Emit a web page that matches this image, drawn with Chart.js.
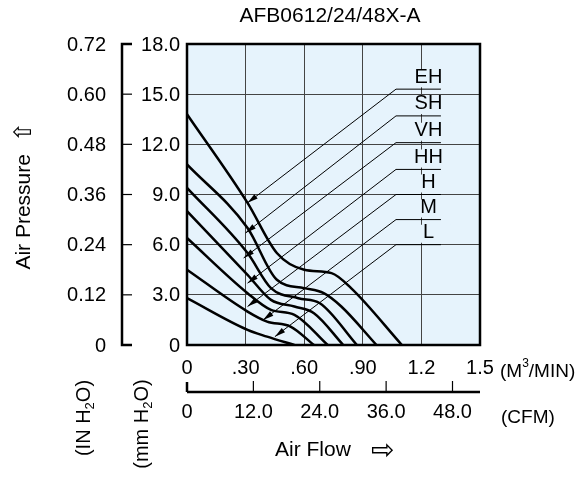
<!DOCTYPE html>
<html>
<head>
<meta charset="utf-8">
<script src="https://cdn.jsdelivr.net/npm/chart.js@4"></script>
<style>
  html, body { margin: 0; padding: 0; background: #fff; }
  #wrap { width: 582px; height: 496px; }
</style>
</head>
<body>
<div id="wrap"><canvas id="myChart" width="582" height="496"></canvas></div>
<script>
// flow in M3/MIN, pressure in mm H2O
var curveNames = ['EH', 'SH', 'VH', 'HH', 'H', 'M', 'L'];
var flowEH = [0, 0.31, 0.46, 0.60, 0.74, 0.84, 1.10];
var presEH = [13.8, 8.5, 5.5, 4.5, 4.3, 3.4, 0];
var flowSH = [0, 0.31, 0.46, 0.60, 0.70, 0.79, 0.97];
var presSH = [10.8, 7.0, 3.9, 3.4, 3.1, 2.3, 0];
var flowVH = [0, 0.31, 0.43, 0.57, 0.68, 0.87];
var presVH = [9.4, 5.5, 3.4, 2.8, 2.5, 0];
var flowHH = [0, 0.31, 0.43, 0.55, 0.65, 0.80];
var presHH = [8.0, 4.2, 2.7, 2.3, 1.9, 0];
var flowH = [0, 0.31, 0.43, 0.55, 0.72];
var presH = [6.4, 3.1, 2.1, 1.8, 0];
var flowM = [0, 0.31, 0.41, 0.53, 0.65];
var presM = [4.5, 2.0, 1.4, 1.1, 0];
var flowL = [0, 0.31, 0.41, 0.55];
var presL = [2.8, 0.9, 0.5, 0];

var flowTicks = ['0', '.30', '.60', '.90', '1.2', '1.5'];
var cfmTicks = [0, 12, 24, 36, 48];
var cfmLabels = ['0', '12.0', '24.0', '36.0', '48.0'];
var mmTicks = ['0', '3.0', '6.0', '9.0', '12.0', '15.0', '18.0'];
var inTicks = ['0', '0.12', '0.24', '0.36', '0.48', '0.60', '0.72'];

// label leaders: label line height (mm) and arrow tip (flow, mm)
var labelY = [15.3, 13.7, 12.1, 10.5, 9.0, 7.5, 6.0];
var tipX = [0.31, 0.30, 0.29, 0.31, 0.31, 0.39, 0.45];
var tipY = [8.5, 6.7, 5.2, 3.7, 2.3, 1.5, 0.5];

function pts(xs, ys) {
    var out = [];
    for (var i = 0; i < xs.length; i++) out.push({x: xs[i], y: ys[i]});
    return out;
}
var series = [pts(flowEH, presEH), pts(flowSH, presSH), pts(flowVH, presVH),
              pts(flowHH, presHH), pts(flowH, presH), pts(flowM, presM), pts(flowL, presL)];

var FONT = '"Liberation Sans", Arial, sans-serif';

var decor = {
    id: 'decor',
    beforeDraw: function(chart) {
        var c = chart.ctx, a = chart.chartArea;
        c.save();
        c.fillStyle = '#e6f3fc';
        c.fillRect(a.left, a.top, a.right - a.left, a.bottom - a.top);
        c.restore();
    },
    afterDraw: function(chart) {
        var c = chart.ctx, a = chart.chartArea;
        var xs = chart.scales.x, ys = chart.scales.y;
        c.save();
        c.strokeStyle = '#000';
        c.lineWidth = 2.5;
        c.strokeRect(a.left, a.top, a.right - a.left, a.bottom - a.top);

        c.fillStyle = '#000';
        c.font = '21px ' + FONT;
        c.textAlign = 'center';
        c.textBaseline = 'middle';
        c.fillText('AFB0612/24/48X-A', 330, 16);

        c.font = '20px ' + FONT;
        for (var i = 0; i < flowTicks.length; i++) {
            c.fillText(flowTicks[i], xs.getPixelForValue(i * 0.3), 368);
        }
        c.textAlign = 'left';
        var mx = 500;
        c.font = '19px ' + FONT;
        c.fillText('(M', mx, 372);
        mx += c.measureText('(M').width;
        c.font = '12px ' + FONT;
        c.fillText('3', mx, 364);
        mx += c.measureText('3').width;
        c.font = '19px ' + FONT;
        c.fillText('/MIN)', mx, 372);

        // CFM axis
        var yc = 392;
        c.lineWidth = 2.5;
        c.beginPath();
        c.moveTo(a.left, yc); c.lineTo(a.right, yc);
        c.moveTo(a.left, yc - 10); c.lineTo(a.left, yc);
        c.stroke();
        c.lineWidth = 1.2;
        c.textAlign = 'center';
        c.font = '20px ' + FONT;
        for (var i = 0; i < cfmTicks.length; i++) {
            var px = xs.getPixelForValue(cfmTicks[i] * 0.0283168);
            if (i > 0) { c.beginPath(); c.moveTo(px, yc - 11); c.lineTo(px, yc); c.stroke(); }
            c.fillText(cfmLabels[i], px, 412);
        }
        c.textAlign = 'left';
        c.font = '19px ' + FONT;
        c.fillText('(CFM)', 501, 418);

        // pressure bracket axis
        var xb = 122;
        c.lineWidth = 2.5;
        c.beginPath();
        c.moveTo(xb + 10, ys.getPixelForValue(18)); c.lineTo(xb, ys.getPixelForValue(18));
        c.lineTo(xb, ys.getPixelForValue(0)); c.lineTo(xb + 10, ys.getPixelForValue(0));
        c.stroke();
        c.lineWidth = 1.2;
        c.font = '20px ' + FONT;
        for (var i = 0; i < mmTicks.length; i++) {
            var py = ys.getPixelForValue(i * 3);
            if (i > 0 && i < 6) { c.beginPath(); c.moveTo(xb, py); c.lineTo(xb + 10, py); c.stroke(); }
            c.textAlign = 'right';
            c.fillText(mmTicks[i], 180, py + 1);
            c.fillText(inTicks[i], 106, py + 1);
        }

        function vtext(parts, x, y) {
            c.save();
            c.translate(x, y);
            c.rotate(-Math.PI / 2);
            c.textAlign = 'left';
            var total = 0;
            parts.forEach(function(p) { c.font = p[1] + 'px ' + FONT; total += c.measureText(p[0]).width; });
            var cx = -total / 2;
            parts.forEach(function(p) {
                c.font = p[1] + 'px ' + FONT;
                c.fillText(p[0], cx, p[2]);
                cx += c.measureText(p[0]).width;
            });
            c.restore();
        }
        vtext([['Air Pressure  ', 21, 0], ['\u21e7', 24, 0]], 24, 196);
        vtext([['(IN H', 20, 0], ['2', 13, 6], ['O)', 20, 0]], 84, 418);
        vtext([['(mm H', 20, 0], ['2', 13, 6], ['O)', 20, 0]], 142, 424);

        c.font = '21px ' + FONT;
        c.textAlign = 'left';
        c.fillText('Air Flow', 275, 450);
        c.font = '28px ' + FONT;
        c.fillText('\u21e8', 371, 451);

        // curve labels with leaders
        c.font = '20px ' + FONT;
        for (var i = 0; i < curveNames.length; i++) {
            var ly = ys.getPixelForValue(labelY[i]);
            var x1 = xs.getPixelForValue(1.07), x2 = xs.getPixelForValue(1.30);
            var tx = xs.getPixelForValue(tipX[i]), ty = ys.getPixelForValue(tipY[i]);
            c.strokeStyle = '#e6f3fc';
            c.lineWidth = 18;
            c.beginPath(); c.moveTo(x1 + 8, ly - 11); c.lineTo(x2 + 10, ly - 11); c.stroke();
            c.strokeStyle = '#000';
            c.lineWidth = 1;
            c.beginPath();
            c.moveTo(x2, ly); c.lineTo(x1, ly); c.lineTo(tx, ty);
            c.stroke();
            var ang = Math.atan2(ty - ly, tx - x1);
            c.beginPath();
            c.moveTo(tx, ty);
            c.lineTo(tx - 11 * Math.cos(ang - 0.25), ty - 11 * Math.sin(ang - 0.25));
            c.lineTo(tx - 11 * Math.cos(ang + 0.25), ty - 11 * Math.sin(ang + 0.25));
            c.closePath();
            c.fill();
            c.textAlign = 'center';
            c.fillText(curveNames[i], (x1 + x2) / 2 + 10, ly - 12);
        }
        c.restore();
    }
};

var datasets = series.map(function(s, i) {
    return {
        label: curveNames[i],
        data: s,
        borderColor: '#000',
        borderWidth: 2.5,
        pointRadius: 0,
        fill: false,
        cubicInterpolationMode: 'monotone'
    };
});

var ctx = document.getElementById('myChart').getContext('2d');
var chart = new Chart(ctx, {
    type: 'line',
    data: { datasets: datasets },
    plugins: [decor],
    options: {
        responsive: false,
        animation: false,
        layout: { padding: { left: 187, right: 102, top: 44, bottom: 151 } },
        plugins: { legend: { display: false }, tooltip: { enabled: false } },
        scales: {
            x: {
                type: 'linear', min: 0, max: 1.5,
                ticks: { display: false, stepSize: 0.3 },
                grid: { color: '#444', lineWidth: 1, drawTicks: false },
                border: { display: false }
            },
            y: {
                type: 'linear', min: 0, max: 18,
                ticks: { display: false, stepSize: 3 },
                grid: { color: '#444', lineWidth: 1, drawTicks: false },
                border: { display: false }
            }
        }
    }
});
</script>
</body>
</html>
